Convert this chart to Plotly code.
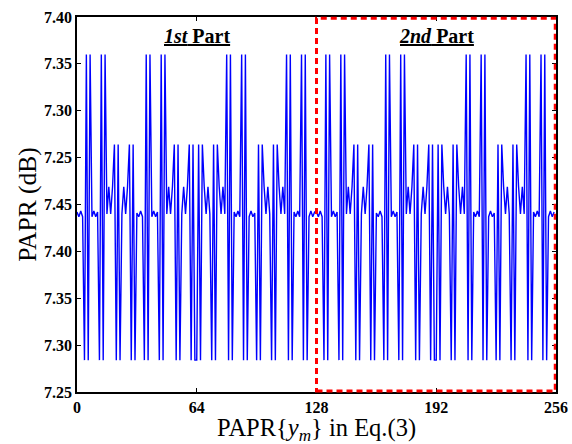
import plotly.graph_objects as go

# Levels (linear value axis 7.25 .. 7.65, relabelled ticks)
T = 7.610   # top spikes
M = 7.514   # middle spikes
S = 7.469   # small bumps
L = 7.284   # bottom spikes

part1 = [
    7.442, 7.437, 7.443, 7.437, L, T, L, T,
    7.437, 7.443, 7.437, 7.442, L, T, L, T,
    7.440, S, 7.440, S, M, L, M, L,
    7.440, S, 7.440, S, M, L, M, L,
    7.441, 7.437, 7.443, 7.437, L, T, L, T,
    7.437, 7.443, 7.437, 7.442, L, T, L, T,
    7.440, S, 7.440, S, M, L, M, L,
    7.440, S, 7.440, S, M, L, M, L,
    L, M, L, M, S, 7.440, S, 7.440,
    L, M, L, M, S, 7.440, S, 7.440,
    T, L, T, L, 7.442, 7.437, 7.443, 7.437,
    T, L, T, L, 7.437, 7.443, 7.437, 7.441,
    L, M, L, M, S, 7.440, S, 7.440,
    L, M, L, M, S, 7.440, S, 7.440,
    T, L, T, L, 7.442, 7.437, 7.443, 7.437,
    T, L, T, L, 7.437, 7.443, 7.437, 7.442,
]
part2 = [
    7.442, 7.437, 7.443, 7.437, L, T, L, T,
    7.437, 7.443, 7.437, 7.442, L, T, L, T,
    7.440, S, 7.440, S, M, L, M, L,
    7.440, S, 7.440, S, M, L, M, L,
    7.441, 7.437, 7.443, 7.437, L, T, L, T,
    7.437, 7.443, 7.437, 7.442, L, T, L, T,
    7.440, S, 7.440, S, M, L, M, L,
    7.440, S, 7.440, S, M, L, M, L,
    L, M, L, M, S, 7.440, S, 7.440,
    L, M, L, M, S, 7.440, S, 7.440,
    T, L, T, L, 7.442, 7.437, 7.443, 7.437,
    T, L, T, L, 7.437, 7.443, 7.437, 7.441,
    L, M, L, M, S, 7.440, S, 7.440,
    L, M, L, M, S, 7.440, S, 7.440,
    T, L, T, L, 7.442, 7.437, 7.443, 7.437,
    T, L, T, L, 7.437, 7.443, 7.437, 7.442,
]
papr = part1 + part2
index = list(range(len(papr)))

x_ticks = [0, 64, 128, 192, 256]
y_tickvals = [7.25, 7.30, 7.35, 7.40, 7.45, 7.50, 7.55, 7.60, 7.65]
y_ticktext = ["7.25", "7.30", "7.35", "7.40", "7.45", "7.25", "7.30", "7.35", "7.40"]
part_labels = ["<u><b><i>1st</i> Part</b></u>", "<u><b><i>2nd</i> Part</b></u>"]
part_centers = [64, 192]
x_title = "PAPR{<i>y</i><sub><i>m</i></sub>} in Eq.(3)"

SERIF = "Liberation Serif"

fig = go.Figure()
fig.add_trace(go.Scatter(
    x=index, y=papr, mode="lines",
    line=dict(color="#0000FF", width=1.4),
    showlegend=False, hoverinfo="skip",
))

fig.add_shape(type="rect", xref="x", yref="paper",
              x0=128, x1=255.6, y0=0.003, y1=0.997,
              line=dict(color="#FF0000", width=3, dash="6px,4px"))

for cx, lab in zip(part_centers, part_labels):
    fig.add_annotation(x=cx, y=0.983, xref="x", yref="paper",
                       text=lab, showarrow=False,
                       font=dict(family=SERIF, size=20, color="black"))

# x-axis title placed as an annotation for exact vertical placement
fig.add_annotation(x=0.5, y=-0.1, xref="paper", yref="paper",
                   xanchor="center", yanchor="middle",
                   text=x_title, showarrow=False,
                   font=dict(family=SERIF, size=24.5, color="black"))

fig.update_layout(
    width=572, height=444,
    margin=dict(l=77, r=16, t=17, b=52),
    paper_bgcolor="white", plot_bgcolor="white",
    font=dict(family=SERIF, color="black"),
)
fig.update_xaxes(
    range=[0, 256], tickvals=x_ticks, ticktext=[str(v) for v in x_ticks],
    ticks="inside", ticklen=4, tickcolor="black",
    showline=True, linecolor="black", linewidth=1.5, mirror="ticks",
    showgrid=False, zeroline=False, automargin=False,
    tickfont=dict(family=SERIF, size=16, weight="bold"),
)
fig.update_yaxes(
    range=[7.25, 7.65], tickvals=y_tickvals, ticktext=y_ticktext,
    ticks="inside", ticklen=4, tickcolor="black",
    showline=True, linecolor="black", linewidth=1.5, mirror="ticks",
    showgrid=False, zeroline=False, automargin=False,
    tickfont=dict(family=SERIF, size=16, weight="bold"),
    title=dict(text="PAPR (dB)", font=dict(family=SERIF, size=25.5), standoff=0),
)

fig.write_html("out.html",
               config={"displayModeBar": False},
               post_script="document.body.style.margin='0';document.body.style.padding='0';")
